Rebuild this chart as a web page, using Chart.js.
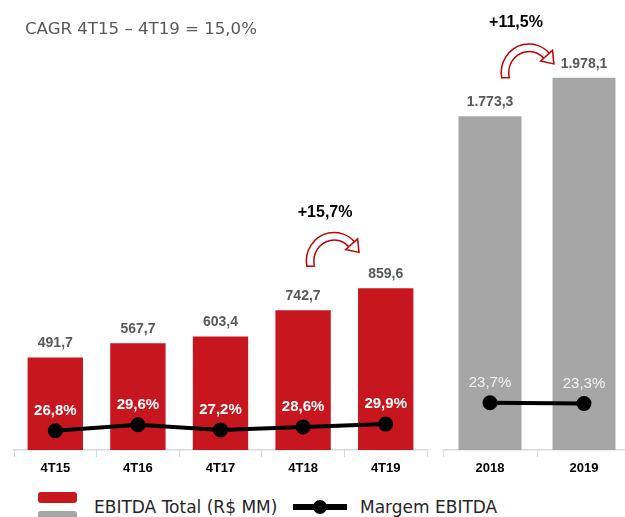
<!DOCTYPE html>
<html>
<head>
<meta charset="utf-8">
<script src="https://cdn.jsdelivr.net/npm/chart.js@4.4.0/dist/chart.umd.min.js"></script>
<style>
  html, body { margin: 0; padding: 0; background: #fff; overflow: hidden; }
  body { width: 625px; height: 517px; position: relative; font-family: "DejaVu Sans", sans-serif; }
  #title { position: absolute; left: 25px; top: 19px; font-size: 16.6px; color: #595959; white-space: nowrap; }
  #chartQ { position: absolute; left: 0; top: 0; }
  #chartA { position: absolute; left: 430px; top: 0; }
  .legend { position: absolute; font-size: 17px; color: #262626; white-space: nowrap; }
  .sw { position: absolute; width: 39px; height: 11px; border-radius: 3px; }
</style>
</head>
<body>
<canvas id="chartQ" width="440" height="480"></canvas>
<canvas id="chartA" width="201" height="480"></canvas>
<div id="title">CAGR 4T15 – 4T19 = 15,0%</div>

<div class="sw" style="left:38px; top:492px; background:#C8161E;"></div>
<div class="sw" style="left:38px; top:511px; background:#A6A6A6;"></div>
<div class="legend" style="left:94px; top:497px;">EBITDA Total (R$ MM)</div>
<div style="position:absolute; left:293px; top:504px; width:54px; height:6px; background:#000;"></div>
<div style="position:absolute; left:313px; top:500px; width:14px; height:14px; border-radius:50%; background:#000;"></div>
<div class="legend" style="left:360px; top:497px;">Margem EBITDA</div>

<script>
// Quarterly data
const quarters = ['4T15', '4T16', '4T17', '4T18', '4T19'];
const ebitdaQuarter = [491.7, 567.7, 603.4, 742.7, 859.6];
const marginQuarter = [26.8, 29.6, 27.2, 28.6, 29.9];

// Annual data
const years = ['2018', '2019'];
const ebitdaYear = [1773.3, 1978.1];
const marginYear = [23.7, 23.3];

// Growth annotations
const growthQuarter = '+15,7%';
const growthYear = '+11,5%';

const RED = '#C8161E';
const GRAY = '#A6A6A6';
const AXIS = '#D9D9D9';

// Brazilian number format: 1.773,3
function formatBR(v) {
    const parts = v.toFixed(1).split('.');
    const intPart = parts[0].replace(/\B(?=(\d{3})+(?!\d))/g, '.');
    return intPart + ',' + parts[1];
}

// Curved outlined arrow (like the PowerPoint shape), drawn along an elliptic arc
function drawCurvedArrow(ctx, cx, cy) {
    const rx = 24, ry = 25;
    const a0 = Math.PI - 0.2, a1 = 2 * Math.PI - 0.75;
    ctx.save();
    ctx.beginPath();
    ctx.ellipse(cx, cy, rx, ry, 0, a0, a1);
    ctx.lineCap = 'butt';
    ctx.strokeStyle = '#C00000';
    ctx.lineWidth = 9;
    ctx.stroke();
    ctx.strokeStyle = '#fff';
    ctx.lineWidth = 6;
    ctx.stroke();
    // bottom cap of the tail
    const sx = cx + rx * Math.cos(a0), sy = cy + ry * Math.sin(a0);
    ctx.beginPath();
    ctx.moveTo(sx - 4.5, sy);
    ctx.lineTo(sx + 4.5, sy);
    ctx.strokeStyle = '#C00000';
    ctx.lineWidth = 1.5;
    ctx.stroke();
    // head
    const ex = cx + rx * Math.cos(a1), ey = cy + ry * Math.sin(a1);
    let dx = -rx * Math.sin(a1), dy = ry * Math.cos(a1);
    const len = Math.hypot(dx, dy);
    dx /= len; dy /= len;
    const nx = -dy, ny = dx;
    const tipx = ex + dx * 11, tipy = ey + dy * 11;
    ctx.beginPath();
    ctx.moveTo(ex + nx * 8, ey + ny * 8);
    ctx.lineTo(tipx, tipy);
    ctx.lineTo(ex - nx * 8, ey - ny * 8);
    ctx.closePath();
    ctx.fillStyle = '#fff';
    ctx.fill();
    ctx.strokeStyle = '#C00000';
    ctx.lineWidth = 1.5;
    ctx.lineJoin = 'miter';
    ctx.stroke();
    ctx.restore();
}

// Value labels above bars, percent labels above line points, growth arrow
const labelsPlugin = {
    id: 'labels',
    afterDatasetsDraw(chart, args, opts) {
        const ctx = chart.ctx;
        const barMeta = chart.getDatasetMeta(0);
        const lineMeta = chart.getDatasetMeta(1);
        ctx.save();
        ctx.textAlign = 'center';
        ctx.textBaseline = 'middle';
        ctx.font = 'bold 14px "Liberation Sans", Arial, sans-serif';
        ctx.fillStyle = '#595959';
        barMeta.data.forEach((bar, i) => {
            ctx.fillText(formatBR(chart.data.datasets[0].data[i]), bar.x, bar.y - 14);
        });
        ctx.font = opts.pctFont;
        ctx.fillStyle = opts.pctColor;
        lineMeta.data.forEach((pt, i) => {
            const v = chart.data.datasets[1].data[i];
            ctx.fillText(v.toFixed(1).replace('.', ',') + '%', pt.x, pt.y - 20);
        });
        // growth arrow between the last two bars
        const n = barMeta.data.length;
        const a = barMeta.data[n - 2], b = barMeta.data[n - 1];
        const cx = a.x + opts.arrowDx;
        const cy = b.y + opts.arrowDy;
        drawCurvedArrow(ctx, cx, cy);
        ctx.font = 'bold 16px "Liberation Sans", Arial, sans-serif';
        ctx.fillStyle = '#000';
        ctx.fillText(opts.growth, cx + opts.growthDx, b.y + opts.growthDy);
        ctx.restore();
    }
};

function makeChart(id, labels, barData, lineData, barColor, y2min, y2max, pad, barPct, labelOpts) {
    return new Chart(document.getElementById(id), {
        type: 'bar',
        data: {
            labels: labels,
            datasets: [
                {
                    type: 'bar',
                    data: barData,
                    backgroundColor: barColor,
                    yAxisID: 'y',
                    order: 2,
                    categoryPercentage: 1,
                    barPercentage: barPct
                },
                {
                    type: 'line',
                    data: lineData,
                    borderColor: '#000',
                    backgroundColor: '#000',
                    borderWidth: 4,
                    pointRadius: 5.5,
                    pointBackgroundColor: '#000',
                    tension: 0,
                    yAxisID: 'y2',
                    order: 1
                }
            ]
        },
        options: {
            responsive: false,
            animation: false,
            layout: { padding: pad, autoPadding: false },
            plugins: {
                legend: { display: false },
                tooltip: { enabled: false },
                labels: labelOpts
            },
            scales: {
                x: {
                    grid: {
                        display: true,
                        drawOnChartArea: false,
                        drawTicks: true,
                        tickLength: 7,
                        color: AXIS,
                        offset: true
                    },
                    border: { display: true, color: AXIS, width: 1.5 },
                    ticks: {
                        color: '#000',
                        padding: 4,
                        font: { family: '"Liberation Sans", Arial, sans-serif', size: 13, weight: 'bold' }
                    },
                    afterFit: function(scale) { scale.height = 30; }
                },
                y: { display: false, min: 0, max: 2200 },
                y2: { display: false, min: y2min, max: y2max }
            }
        },
        plugins: [labelsPlugin]
    });
}

makeChart('chartQ', quarters, ebitdaQuarter, marginQuarter, RED, 17.9, 209.6,
    { top: 36, left: 14, right: 13, bottom: 0 }, 0.67,
    {
        pctFont: 'bold 15px "Liberation Sans", Arial, sans-serif',
        pctColor: '#fff',
        growth: growthQuarter,
        arrowDx: 31, arrowDy: -27,
        growthDx: -9, growthDy: -76
    });

makeChart('chartA', years, ebitdaYear, marginYear, GRAY, 1.8, 193.5,
    { top: 36, left: 13, right: 0, bottom: 0 }, 0.67,
    {
        pctFont: '15px "Liberation Sans", Arial, sans-serif',
        pctColor: '#F2F2F2',
        growth: growthYear,
        arrowDx: 39, arrowDy: -5,
        growthDx: -13, growthDy: -55
    });
</script>
</body>
</html>
